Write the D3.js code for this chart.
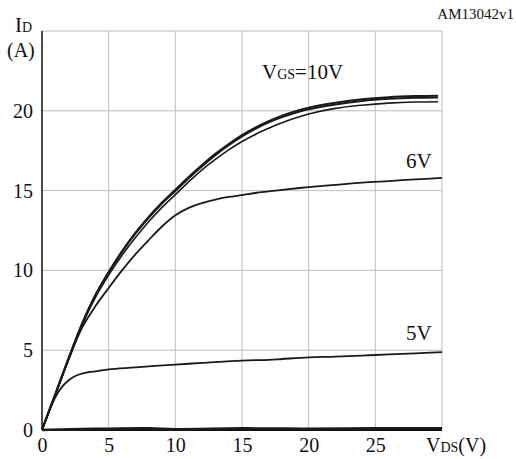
<!DOCTYPE html>
<html><head><meta charset="utf-8">
<script src="https://cdn.jsdelivr.net/npm/d3@7"></script>
<style>
html,body{margin:0;padding:0;background:#fff;}
svg text{font-family:"Liberation Serif","Times New Roman",serif;fill:#111;}
</style></head>
<body><svg id="c" width="516" height="459"></svg>
<script>
// ---- data ----
const xTicks = [0, 5, 10, 15, 20, 25];
const yTicks = [0, 5, 10, 15, 20];
const vds10 = [0, 1, 2, 3, 4, 5, 6, 7, 8, 9, 10, 11, 12, 13, 14, 15, 16, 17, 18, 19, 20, 22, 24, 26, 28, 29.7];
const id10  = [0, 2.25, 4.5, 6.65, 8.45, 9.9, 11.2, 12.35, 13.35, 14.25, 15.05, 15.85, 16.6, 17.3, 17.92, 18.48, 18.95, 19.35, 19.7, 19.98, 20.2, 20.5, 20.72, 20.85, 20.92, 20.95];
const id9   = [0, 2.25, 4.5, 6.64, 8.43, 9.87, 11.16, 12.3, 13.3, 14.19, 14.98, 15.77, 16.52, 17.22, 17.84, 18.4, 18.87, 19.27, 19.6, 19.88, 20.1, 20.4, 20.62, 20.75, 20.82, 20.84];
const id7   = [0, 2.22, 4.45, 6.55, 8.3, 9.7, 10.95, 12.05, 13.05, 13.95, 14.75, 15.55, 16.3, 16.95, 17.55, 18.08, 18.52, 18.9, 19.25, 19.55, 19.8, 20.15, 20.35, 20.48, 20.55, 20.57];
const vds6  = [0, 1, 2, 3, 4, 5, 6, 7, 8, 9, 10, 11, 12, 13, 14, 15, 16, 17, 18, 20, 22, 24, 26, 28, 30];
const id6   = [0, 2.22, 4.42, 6.4, 7.75, 8.9, 10.0, 11.0, 11.9, 12.75, 13.45, 13.92, 14.22, 14.44, 14.6, 14.72, 14.85, 14.95, 15.05, 15.22, 15.36, 15.5, 15.6, 15.7, 15.8];
const vds5  = [0, 0.5, 1, 1.5, 2, 2.5, 3, 4, 5, 7, 10, 12, 15, 17, 18, 20, 22, 25, 28, 30];
const id5   = [0, 1.1, 2.05, 2.7, 3.12, 3.38, 3.53, 3.68, 3.8, 3.92, 4.1, 4.2, 4.35, 4.4, 4.45, 4.55, 4.6, 4.7, 4.8, 4.88];
const vds4  = [0, 2, 5, 8, 10, 15, 20, 25, 30];
const id4   = [0, 0.05, 0.08, 0.1, 0.05, 0.1, 0.08, 0.1, 0.1];

// ---- layout ----
const svg = d3.select("#c");
const L = 42, R = 442, T = 31, B = 430;
const x = d3.scaleLinear().domain([0, 30]).range([L, R]);
const y = d3.scaleLinear().domain([0, 25]).range([B, T]);

// grid
const grid = svg.append("g").attr("stroke", "#bdbdbd").attr("stroke-width", 1);
[5, 10, 15, 20, 25, 30].forEach(v => grid.append("line")
  .attr("x1", x(v)).attr("x2", x(v)).attr("y1", y(0)).attr("y2", y(25)));
[5, 10, 15, 20, 25].forEach(v => grid.append("line")
  .attr("x1", x(0)).attr("x2", x(30)).attr("y1", y(v)).attr("y2", y(v)));

// axes
const xa = svg.append("g").attr("transform", `translate(0,${B})`)
  .call(d3.axisBottom(x).tickValues(xTicks).tickSize(0).tickPadding(8).tickFormat(d3.format("d")));
xa.select(".domain").remove();
xa.selectAll("text").attr("font-size", 20).attr("fill", "#111").style("font-family", "Liberation Serif");
const ya = svg.append("g").attr("transform", `translate(${L},0)`)
  .call(d3.axisLeft(y).tickValues(yTicks).tickSize(0).tickPadding(9).tickFormat(d3.format("d")));
ya.select(".domain").remove();
ya.selectAll("text").attr("font-size", 20).attr("fill", "#111").style("font-family", "Liberation Serif");

svg.append("line").attr("x1", L).attr("x2", L).attr("y1", T).attr("y2", B)
  .attr("stroke", "#111").attr("stroke-width", 1.5);
svg.append("line").attr("x1", L).attr("x2", R).attr("y1", B).attr("y2", B)
  .attr("stroke", "#111").attr("stroke-width", 2);

// curves
const line = (xs, ys) => d3.line().curve(d3.curveCatmullRom.alpha(0.5))
  .x((d, i) => x(xs[i])).y(d => y(d))(ys);
const curves = [
  [vds4, id4, 2.6],
  [vds5, id5, 1.8],
  [vds6, id6, 1.8],
  [vds10, id7, 1.6],
  [vds10, id9, 2],
  [vds10, id10, 2]
];
curves.forEach(([xs, ys, w]) => svg.append("path").attr("d", line(xs, ys))
  .attr("fill", "none").attr("stroke", "#1a1a1a").attr("stroke-width", w));

// labels
function label(px, py, parts, anchor) {
  const t = svg.append("text").attr("x", px).attr("y", py).attr("text-anchor", anchor || "start");
  parts.forEach(([s, fs]) => t.append("tspan").attr("font-size", fs).text(s));
  return t;
}
label(262, 79, [["V", 21], ["GS", 14], ["=10V", 21]]);
label(406, 168, [["6V", 21]]);
label(406, 340, [["5V", 21]]);
label(426, 452, [["V", 20], ["DS", 14], ["(V)", 20]]);
label(15, 32, [["I", 21], ["D", 14]]);
label(7, 57, [["(A)", 20]]);
svg.append("text").attr("x", 514).attr("y", 19).attr("text-anchor", "end")
  .attr("font-size", 15).text("AM13042v1");
</script></body></html>
